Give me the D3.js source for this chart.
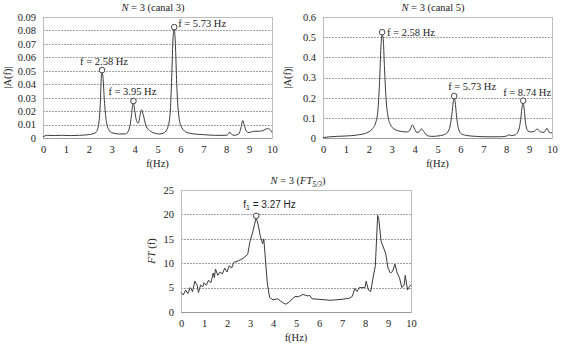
<!DOCTYPE html>
<html>
<head>
<meta charset="utf-8">
<script src="https://cdn.jsdelivr.net/npm/d3@7"></script>
<style>
  body { margin: 0; background: #fff; }
  svg { display: block; font-family: "Liberation Serif", "DejaVu Serif", serif; }
  .grid line { stroke: #a0a0a0; stroke-dasharray: 2,1; shape-rendering: crispEdges; }
  .frame { fill: none; stroke: #bdbdbd; shape-rendering: crispEdges; }
  .tick text { font-size: 10.5px; fill: #222; font-family: "Liberation Serif", serif; }
</style>
</head>
<body>
<svg id="chart" width="563" height="345"></svg>
<script>
// canal 3 spectrum |A(f)|
const freq3 = [0, 0.2, 0.5, 0.8, 1.2, 1.6, 2.0, 2.3, 2.42, 2.5, 2.55, 2.58, 2.62, 2.68, 2.76, 2.88, 3.0, 3.3, 3.6, 3.75, 3.85, 3.92, 3.95, 4.0, 4.08, 4.16, 4.24, 4.3, 4.38, 4.5, 4.7, 4.9, 5.1, 5.3, 5.45, 5.55, 5.62, 5.68, 5.73, 5.78, 5.84, 5.92, 6.05, 6.3, 6.6, 7.0, 7.5, 8.0, 8.1, 8.15, 8.22, 8.35, 8.55, 8.65, 8.72, 8.78, 8.88, 9.0, 9.2, 9.4, 9.6, 9.8, 9.9, 10];
const amp3 = [0.001, 0.002, 0.0018, 0.002, 0.0018, 0.002, 0.0025, 0.004, 0.009, 0.025, 0.046, 0.049, 0.045, 0.028, 0.013, 0.006, 0.004, 0.003, 0.003, 0.006, 0.015, 0.025, 0.026, 0.021, 0.013, 0.011, 0.017, 0.021, 0.017, 0.009, 0.005, 0.0035, 0.003, 0.004, 0.008, 0.018, 0.045, 0.075, 0.081, 0.07, 0.04, 0.018, 0.008, 0.004, 0.003, 0.0025, 0.002, 0.002, 0.003, 0.0045, 0.003, 0.002, 0.003, 0.008, 0.013, 0.01, 0.005, 0.004, 0.005, 0.005, 0.0055, 0.007, 0.0065, 0.004];
const peaks3 = [[2.58, 0.049, 'f = 2.58 Hz'], [3.95, 0.026, 'f = 3.95 Hz'], [5.73, 0.081, 'f = 5.73 Hz']];

// canal 5 spectrum |A(f)|
const freq5 = [0, 0.3, 0.6, 1.0, 1.5, 1.9, 2.15, 2.3, 2.4, 2.47, 2.53, 2.58, 2.63, 2.68, 2.75, 2.85, 2.95, 3.1, 3.4, 3.7, 3.82, 3.9, 3.98, 4.1, 4.2, 4.3, 4.4, 4.55, 4.75, 5.0, 5.25, 5.45, 5.55, 5.63, 5.69, 5.73, 5.77, 5.83, 5.92, 6.05, 6.3, 6.7, 7.2, 7.7, 8.0, 8.12, 8.22, 8.4, 8.55, 8.64, 8.7, 8.74, 8.78, 8.85, 8.95, 9.1, 9.25, 9.35, 9.5, 9.65, 9.78, 9.9, 10];
const amp5 = [0.002, 0.006, 0.008, 0.01, 0.015, 0.025, 0.045, 0.075, 0.14, 0.28, 0.45, 0.515, 0.49, 0.36, 0.2, 0.1, 0.065, 0.045, 0.033, 0.03, 0.045, 0.065, 0.05, 0.027, 0.032, 0.045, 0.032, 0.012, 0.008, 0.01, 0.015, 0.03, 0.06, 0.12, 0.18, 0.198, 0.18, 0.11, 0.045, 0.02, 0.012, 0.008, 0.006, 0.006, 0.009, 0.016, 0.012, 0.016, 0.04, 0.1, 0.16, 0.175, 0.15, 0.07, 0.035, 0.03, 0.035, 0.045, 0.03, 0.028, 0.048, 0.025, 0.027];
const peaks5 = [[2.58, 0.515, 'f = 2.58 Hz'], [5.73, 0.198, 'f = 5.73 Hz'], [8.74, 0.175, 'f = 8.74 Hz']];

// FT 5/3
const freqFT = [0, 0.1, 0.2, 0.3, 0.4, 0.5, 0.6, 0.7, 0.76, 0.85, 0.95, 1.0, 1.1, 1.2, 1.3, 1.4, 1.45, 1.5, 1.6, 1.7, 1.8, 1.9, 2.0, 2.1, 2.2, 2.3, 2.5, 2.7, 2.9, 3.0, 3.1, 3.2, 3.27, 3.35, 3.45, 3.55, 3.6, 3.65, 3.75, 3.85, 4.0, 4.2, 4.4, 4.55, 4.7, 4.9, 5.0, 5.1, 5.3, 5.5, 5.6, 5.7, 6.0, 6.5, 7.0, 7.3, 7.45, 7.55, 7.65, 7.75, 8.0, 8.05, 8.15, 8.25, 8.35, 8.45, 8.55, 8.6, 8.7, 8.9, 9.0, 9.1, 9.2, 9.3, 9.4, 9.5, 9.6, 9.7, 9.75, 9.85, 9.9, 10];
const ampFT = [4, 3.5, 4.5, 3.8, 5, 4.2, 6.3, 5.5, 4, 5.5, 5.2, 6, 5.5, 6.5, 6, 8, 7, 8.8, 7.5, 8.2, 7.8, 9, 8.2, 9.5, 9, 10.2, 10.5, 11, 11.8, 14.5, 16, 18, 19.3, 18, 15.5, 14, 15, 12, 6, 3, 2.5, 2.7, 2, 1.6, 2, 3, 3.2, 3.1, 3.6, 3.3, 3.4, 2.7, 2.6, 2.4, 2.6, 2.8, 3.2, 4.8, 4.2, 5, 5, 6.3, 4.5, 4.2, 7, 9.5, 19.8, 19, 14.5, 12, 9, 8, 8.3, 9.8, 8, 7, 5, 5.5, 7.5, 4.5, 5, 5.6];
const peaksFT = [[3.27, 19.3, ['f', '1', ' = 3.27 Hz']]];

const xTicks = d3.range(0, 11);

const svg = d3.select('#chart');

function drawChart(cfg) {
  const x = d3.scaleLinear().domain([0, 10]).range([cfg.left, cfg.right]);
  const y = d3.scaleLinear().domain([0, cfg.yMax]).range([cfg.bottom, cfg.top]);
  const g = svg.append('g');

  // gridlines
  g.append('g').attr('class', 'grid')
    .selectAll('line')
    .data(cfg.yTicks.slice(1))
    .enter().append('line')
    .attr('x1', cfg.left).attr('x2', cfg.right)
    .attr('y1', d => Math.round(y(d)) + 0.5).attr('y2', d => Math.round(y(d)) + 0.5);

  g.append('rect').attr('class', 'frame')
    .attr('x', cfg.left + 0.5).attr('y', Math.round(cfg.top) + 0.5)
    .attr('width', cfg.right - cfg.left).attr('height', cfg.bottom - cfg.top);

  // axes
  const ay = g.append('g')
    .attr('transform', `translate(${cfg.left},0)`)
    .call(d3.axisLeft(y).tickValues(cfg.yTicks).tickFormat(cfg.fmt).tickSize(0).tickPadding(7));
  ay.attr('font-family', null).select('.domain').remove();

  const ax = g.append('g')
    .attr('transform', `translate(0,${cfg.bottom})`)
    .call(d3.axisBottom(x).tickValues(xTicks).tickSize(0).tickPadding(8));
  ax.attr('font-family', null).select('.domain').remove();

  // bottom axis line
  g.append('line').attr('x1', cfg.left).attr('x2', cfg.right)
    .attr('y1', cfg.bottom + 0.5).attr('y2', cfg.bottom + 0.5)
    .attr('stroke', '#9a9a9a');

  // curve
  const line = d3.line()
    .curve(cfg.curve)
    .x((d, i) => x(cfg.xs[i]))
    .y(d => y(d));
  g.append('path')
    .datum(cfg.ys)
    .attr('fill', 'none')
    .attr('stroke', '#3a3a3a')
    .attr('stroke-width', 1)
    .attr('d', line);

  // peaks
  cfg.peaks.forEach((p, i) => {
    g.append('circle')
      .attr('cx', x(p[0])).attr('cy', y(p[1]) - 2)
      .attr('r', 2.8)
      .attr('fill', '#fff').attr('stroke', '#333').attr('stroke-width', 0.9);
    const off = cfg.labelOff[i];
    const lbl = g.append('text')
      .attr('x', x(p[0]) + off[0]).attr('y', y(p[1]) + off[1])
      .attr('text-anchor', off[2])
      .style('font-size', cfg.labelSize)
      .style('font-family', cfg.labelFont)
      .attr('fill', '#222');
    if (Array.isArray(p[2])) {
      lbl.append('tspan').text(p[2][0]);
      lbl.append('tspan').attr('dy', 2).style('font-size', '7px').text(p[2][1]);
      lbl.append('tspan').attr('dy', -2).text(p[2][2]);
    } else {
      lbl.text(p[2]);
    }
  });

  // title
  const t = g.append('text')
    .attr('x', cfg.titleX).attr('y', cfg.top - 6)
    .attr('text-anchor', 'middle')
    .style('font-size', '10.5px')
    .attr('fill', '#222');
  t.append('tspan').style('font-style', 'italic').text('N');
  t.append('tspan').text(' = 3 (');
  if (cfg.ftTitle) {
    t.append('tspan').style('font-style', 'italic').text('FT');
    t.append('tspan').attr('dy', 3).style('font-size', '7.5px').style('font-style', 'italic').text('5/3');
    t.append('tspan').attr('dy', -3).text(')');
  } else {
    t.append('tspan').text(cfg.title + ')');
  }

  // y title
  const yt = g.append('text')
    .attr('transform', `translate(${cfg.yTitleX},${(cfg.top + cfg.bottom) / 2}) rotate(-90)`)
    .attr('text-anchor', 'middle')
    .style('font-size', '10.5px')
    .attr('fill', '#222');
  if (cfg.ftTitle) {
    yt.append('tspan').style('font-style', 'italic').text('FT');
    yt.append('tspan').text(' (f)');
  } else {
    yt.text('|A(f)|');
  }

  // x title
  g.append('text')
    .attr('x', (cfg.left + cfg.right) / 2).attr('y', cfg.bottom + 29)
    .attr('text-anchor', 'middle')
    .style('font-size', '10.5px')
    .attr('fill', '#222')
    .text('f(Hz)');
}

drawChart({
  left: 43, right: 272, top: 17, bottom: 138, yMax: 0.09,
  yTicks: d3.range(0, 10).map(d => d / 100), fmt: d => d === 0 ? '0' : d3.format('.2f')(d),
  xs: freq3, ys: amp3, peaks: peaks3, curve: d3.curveMonotoneX,
  labelOff: [[2, -7, 'middle'], [-25, -8, 'start'], [4, -2, 'start']],
  labelFont: '"Liberation Serif", serif', labelSize: '10.5px',
  title: 'canal 3', titleX: 153, yTitleX: 11
});

drawChart({
  left: 323, right: 552, top: 17, bottom: 138, yMax: 0.6,
  yTicks: d3.range(0, 7).map(d => d / 10), fmt: d => d === 0 ? '0' : d3.format('.1f')(d),
  xs: freq5, ys: amp5, peaks: peaks5, curve: d3.curveMonotoneX,
  labelOff: [[5, 2, 'start'], [-6, -8, 'start'], [-20, -7, 'start']],
  labelFont: '"Liberation Serif", serif', labelSize: '10.5px',
  title: 'canal 5', titleX: 433, yTitleX: 291
});

drawChart({
  left: 181, right: 411, top: 190, bottom: 312, yMax: 25,
  yTicks: d3.range(0, 30, 5), fmt: d3.format('d'),
  xs: freqFT, ys: ampFT, peaks: peaksFT, curve: d3.curveLinear,
  labelOff: [[-13, -10, 'start']],
  labelFont: '"Liberation Sans Narrow", "Liberation Sans", Arial, sans-serif', labelSize: '10px',
  ftTitle: true, titleX: 298, yTitleX: 155
});
</script>
</body>
</html>
